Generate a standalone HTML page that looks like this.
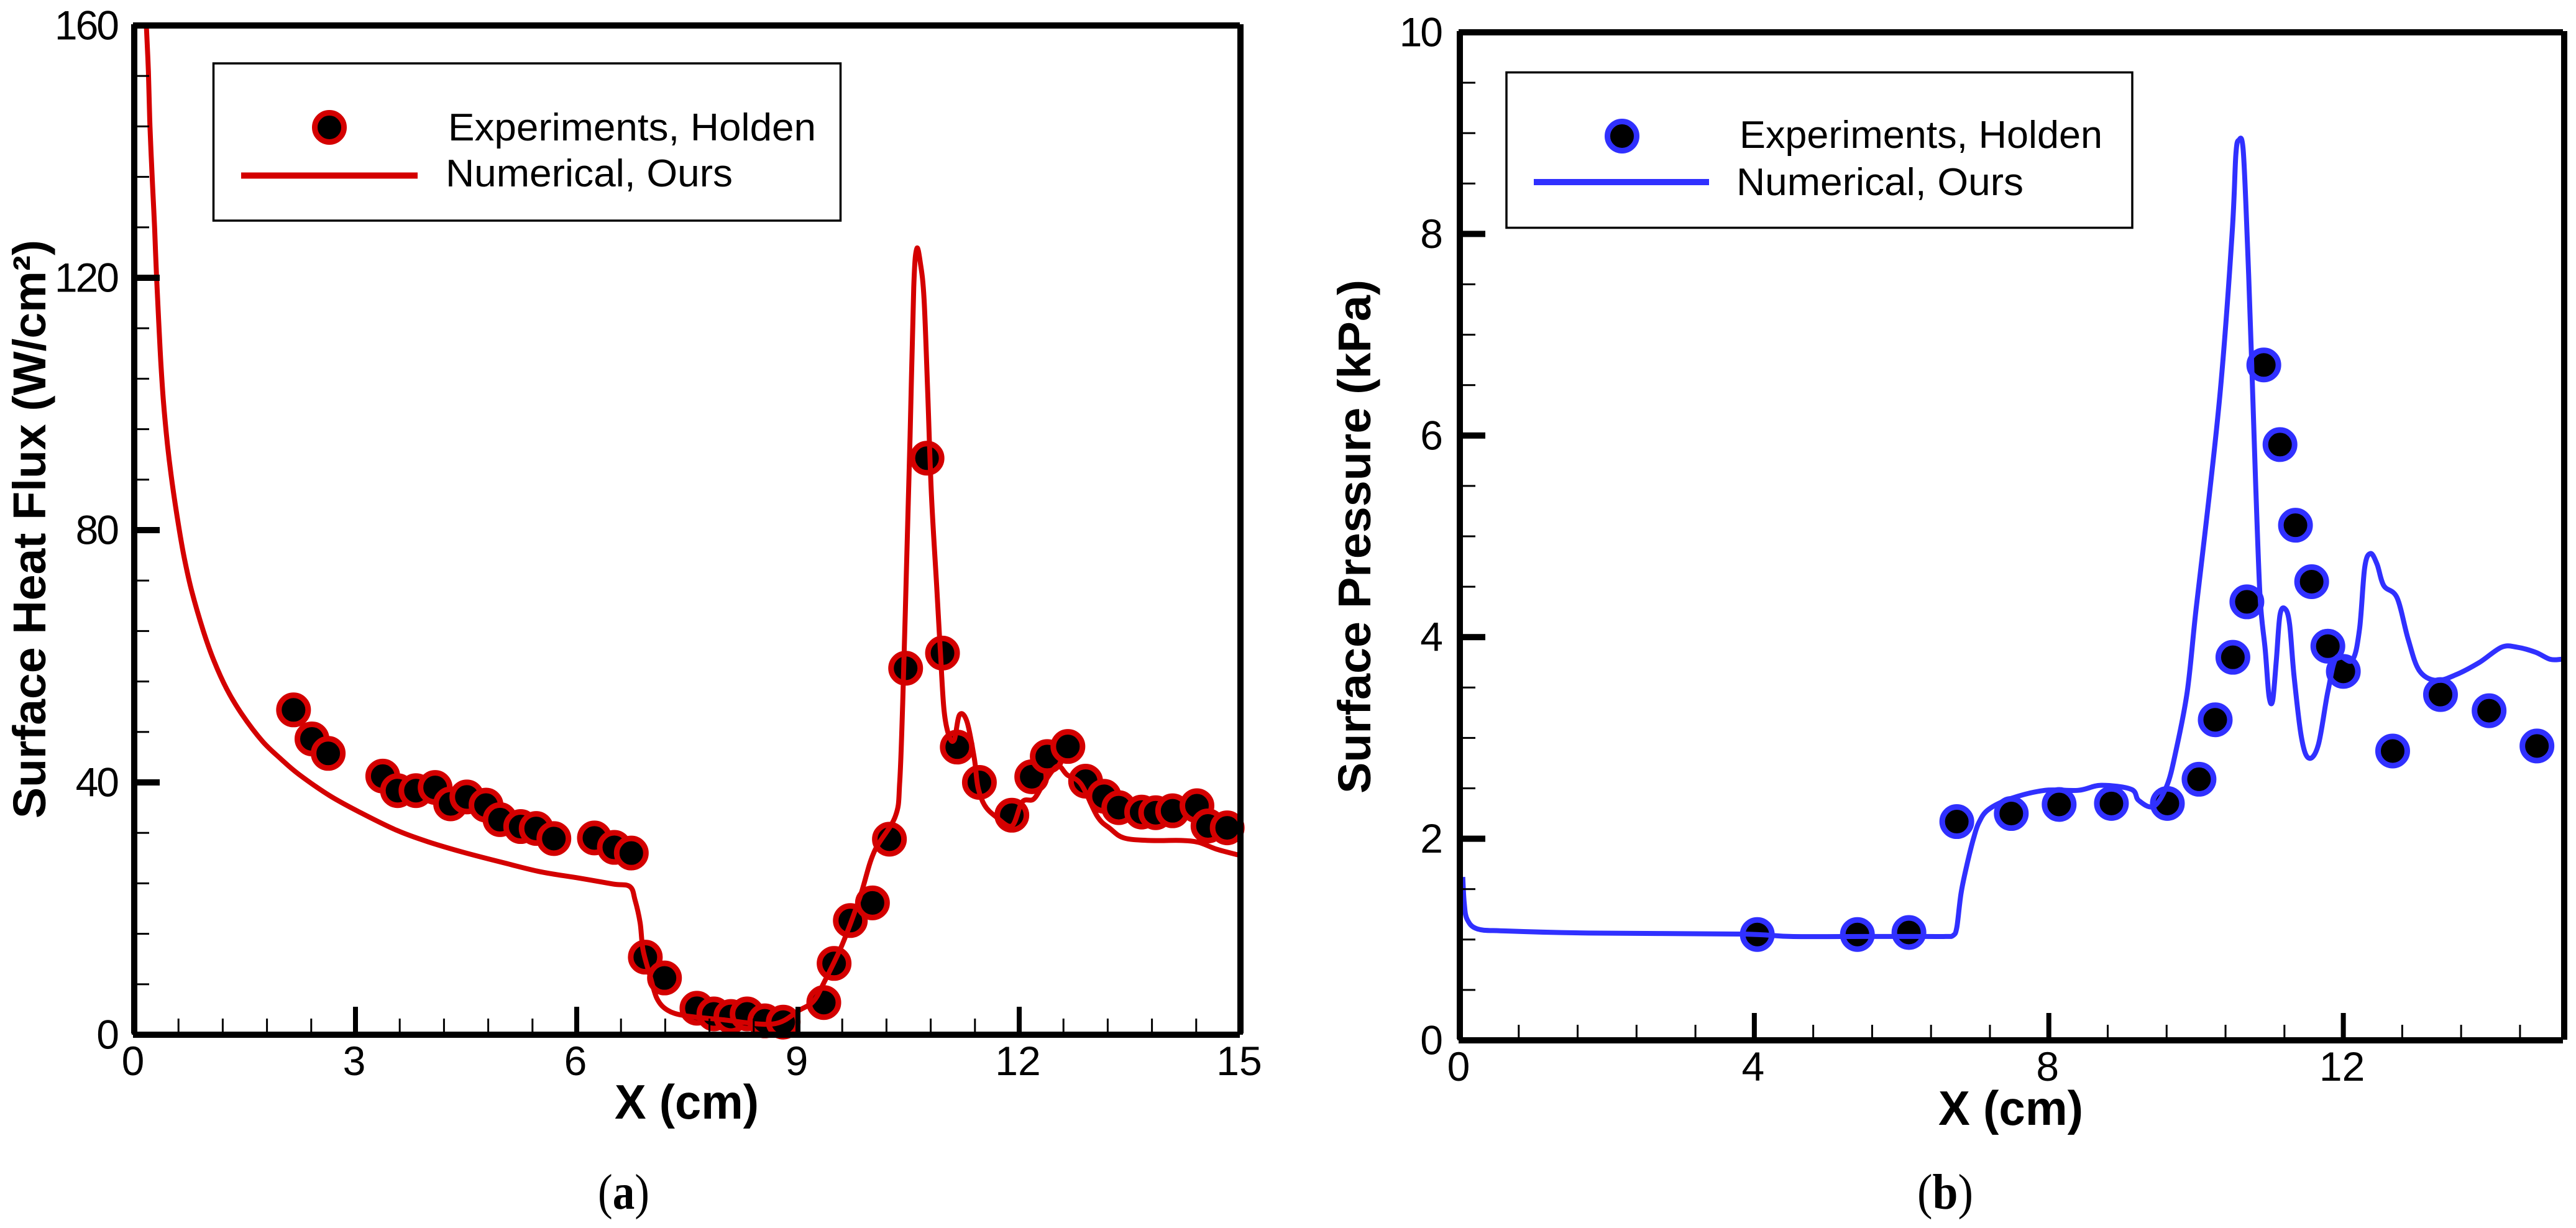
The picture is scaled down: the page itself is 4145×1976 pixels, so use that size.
<!DOCTYPE html>
<html lang="en">
<head>
<meta charset="utf-8">
<title>Surface heat flux and surface pressure comparison</title>
<style>
html,body{margin:0;padding:0;background:#fff;}
svg{display:block;}
text{font-family:"Liberation Sans",Arial,sans-serif;fill:#000;}
.tick{font-size:66px;}
.ytick{letter-spacing:-3px;}
.legend-text{font-size:62px;}
.title{font-size:74px;font-weight:bold;}
.cap{font-family:"Liberation Serif","Times New Roman",serif;font-size:80px;}
</style>
</head>
<body>
<svg id="chart" xmlns="http://www.w3.org/2000/svg" width="4145" height="1976" viewBox="0 0 4145 1976">
  <rect x="0" y="0" width="4145" height="1976" fill="#fff"/>

  <g id="panel-a">
    <g id="a-marks"></g>
    <g id="a-ticks"></g>
    <g fill="#000">
      <rect x="211" y="39" width="10" height="1624"/>
      <rect x="214" y="36" width="1781" height="10"/>
      <rect x="214" y="1660" width="1781" height="10"/>
      <rect x="1991" y="39" width="10" height="1624"/>
    </g>
    <g>
      <rect x="343.5" y="102" width="1009" height="253" fill="#fff" stroke="#000" stroke-width="3.5"/>
      <circle cx="530" cy="205" r="23.5" fill="#000" stroke="#d40000" stroke-width="9"/>
      <line x1="388" y1="282.5" x2="672" y2="282.5" stroke="#d40000" stroke-width="10"/>
      <text class="legend-text" x="721" y="226" textLength="592" lengthAdjust="spacingAndGlyphs">Experiments, Holden</text>
      <text class="legend-text" x="717" y="300" textLength="462" lengthAdjust="spacingAndGlyphs">Numerical, Ours</text>
    </g>
    <text class="title" transform="translate(73,851.5) rotate(-90)" text-anchor="middle" textLength="931" lengthAdjust="spacingAndGlyphs">Surface Heat Flux (W/cm²)</text>
    <text class="title" style="font-size:78px" x="989" y="1800" textLength="232" lengthAdjust="spacingAndGlyphs">X (cm)</text>
    <text class="cap" x="962" y="1945" textLength="83" lengthAdjust="spacingAndGlyphs">(<tspan font-weight="bold">a</tspan>)</text>
  </g>

  <g id="panel-b">
    <g id="b-marks"></g>
    <g id="b-ticks"></g>
    <g fill="#000">
      <rect x="2344" y="50" width="10" height="1622"/>
      <rect x="2347" y="47" width="1777" height="10"/>
      <rect x="2347" y="1669" width="1777" height="10"/>
      <rect x="4121" y="50" width="10" height="1623"/>
    </g>
    <g>
      <rect x="2424" y="116.5" width="1007" height="250" fill="#fff" stroke="#000" stroke-width="3.5"/>
      <circle cx="2610" cy="219" r="23.5" fill="#000" stroke="#3030ff" stroke-width="9"/>
      <line x1="2468" y1="293" x2="2750" y2="293" stroke="#3030ff" stroke-width="10"/>
      <text class="legend-text" x="2799" y="238" textLength="584" lengthAdjust="spacingAndGlyphs">Experiments, Holden</text>
      <text class="legend-text" x="2794" y="314" textLength="462" lengthAdjust="spacingAndGlyphs">Numerical, Ours</text>
    </g>
    <text class="title" transform="translate(2205,863.5) rotate(-90)" text-anchor="middle" textLength="827" lengthAdjust="spacingAndGlyphs">Surface Pressure (kPa)</text>
    <text class="title" style="font-size:78px" x="3119" y="1810" textLength="233" lengthAdjust="spacingAndGlyphs">X (cm)</text>
    <text class="cap" x="3085" y="1945" textLength="90" lengthAdjust="spacingAndGlyphs">(<tspan font-weight="bold">b</tspan>)</text>
  </g>
</svg>

<script>
// ---- Panel (a): surface heat flux ----
const heatXTicks = [0, 3, 6, 9, 12, 15];
const heatYTicks = [0, 40, 80, 120, 160];
const heatXMinorStep = 0.6;
const heatYMinorStep = 8;
const heatExpX = [2.16,2.41,2.63,3.37,3.57,3.82,4.08,4.29,4.51,4.77,4.96,5.24,5.45,5.69,6.24,6.51,6.74,6.93,7.19,7.63,7.86,8.09,8.31,8.55,8.80,9.35,9.49,9.71,10.01,10.24,10.46,10.75,10.96,11.16,11.46,11.90,12.17,12.38,12.66,12.90,13.15,13.35,13.66,13.85,14.08,14.41,14.56,14.82];
const heatExpY = [51.5,46.9,44.6,41.0,38.7,38.7,39.2,36.6,37.7,36.4,34.1,33.0,32.7,31.1,31.2,29.7,28.8,12.3,9.0,4.2,3.3,2.9,3.3,2.2,2.0,5.1,11.3,18.1,20.9,31.0,58.1,91.4,60.5,45.6,40.0,34.8,40.9,44.1,45.7,40.2,37.8,36.0,35.3,35.2,35.5,36.3,33.1,32.8];
const heatNumX = [0.164,0.192,0.213,0.248,0.276,0.303,0.332,0.36,0.395,0.451,0.514,0.604,0.68,0.78,0.94,1.08,1.255,1.46,1.74,1.99,2.23,2.65,3.07,3.56,3.98,4.47,5.03,5.52,6.0,6.49,6.72,6.79,6.86,6.9,7.0,7.09,7.23,7.47,7.96,8.66,9.02,9.21,9.35,9.6,9.84,10.03,10.32,10.38,10.42,10.47,10.52,10.57,10.61,10.66,10.71,10.76,10.81,10.88,10.93,10.98,11.05,11.12,11.19,11.29,11.39,11.44,11.53,11.68,11.9,12.04,12.2,12.35,12.52,12.65,12.84,13.06,13.23,13.42,13.76,14.19,14.43,14.68,15];
const heatNumY = [160,152.7,144,134.8,127.9,120,113,106.7,100.5,93.5,87.5,80.5,75.5,70.3,63.9,59.3,54.8,50.8,46.5,43.7,41.3,37.9,35.2,32.4,30.6,28.9,27.2,25.8,24.9,23.9,23.5,21.4,17.7,13.4,9.1,5.7,3.9,3.0,2.4,1.7,3.9,5.3,8.2,14.3,21.8,28.9,34.6,40.2,52.5,73.2,94.9,118.5,124.6,122.3,116.6,101.5,85.5,71.3,61,51.5,47.3,46.8,50.7,49.7,43.9,39.3,36.4,34.6,33.1,36.9,37.4,40.2,42.6,41.2,39.7,34.6,32.7,31.2,30.8,30.8,30.5,29.4,28.4];

// ---- Panel (b): surface pressure ----
const pressXTicks = [0, 4, 8, 12];
const pressYTicks = [0, 2, 4, 6, 8, 10];
const pressXMinorStep = 0.8;
const pressYMinorStep = 0.5;
const pressExpX = [4.04,5.40,6.10,6.75,7.49,8.14,8.85,9.61,10.04,10.26,10.50,10.69,10.92,11.14,11.35,11.57,11.79,12.0,12.67,13.32,13.98,14.63];
const pressExpY = [1.05,1.05,1.07,2.17,2.25,2.34,2.35,2.35,2.59,3.18,3.80,4.35,6.70,5.91,5.11,4.55,3.91,3.66,2.87,3.43,3.27,2.92];
const pressNumX = [0.04,0.06,0.10,0.24,0.62,1.75,3.82,4.5,5.5,6.3,6.6,6.7,6.75,6.81,6.90,6.98,7.05,7.18,7.49,7.95,8.40,8.71,9.12,9.22,9.42,9.6,9.72,9.88,10.0,10.18,10.34,10.49,10.54,10.58,10.64,10.70,10.75,10.81,10.87,10.94,10.99,11.04,11.09,11.14,11.21,11.27,11.33,11.43,11.53,11.66,11.79,11.91,12.12,12.22,12.29,12.37,12.46,12.55,12.73,12.88,13.03,13.26,13.54,13.85,14.15,14.36,14.61,14.81,14.96,15];
const pressNumY = [1.62,1.36,1.20,1.105,1.085,1.064,1.054,1.03,1.03,1.03,1.03,1.04,1.12,1.47,1.78,2.01,2.16,2.29,2.40,2.48,2.48,2.53,2.49,2.38,2.32,2.52,2.85,3.46,4.28,5.41,6.53,8.01,8.78,8.93,8.83,7.86,6.84,5.51,4.39,3.87,3.42,3.37,3.77,4.22,4.28,4.13,3.62,3.01,2.80,2.93,3.46,3.80,3.77,4.08,4.69,4.83,4.72,4.51,4.39,3.98,3.67,3.57,3.63,3.75,3.90,3.90,3.85,3.78,3.78,3.78];

const NS = 'http://www.w3.org/2000/svg';
function make(tag, attrs, parent) {
  const el = document.createElementNS(NS, tag);
  for (const k in attrs) el.setAttribute(k, attrs[k]);
  parent.appendChild(el);
  return el;
}

// Catmull-Rom smoothing through the scaled data vertices
function smoothPath(p) {
  let d = 'M' + p[0][0].toFixed(1) + ' ' + p[0][1].toFixed(1);
  for (let i = 0; i < p.length - 1; i++) {
    const a = p[Math.max(i - 1, 0)], b = p[i], c = p[i + 1], e = p[Math.min(i + 2, p.length - 1)];
    const c1x = b[0] + (c[0] - a[0]) / 6, c1y = b[1] + (c[1] - a[1]) / 6;
    const c2x = c[0] - (e[0] - b[0]) / 6, c2y = c[1] - (e[1] - b[1]) / 6;
    d += 'C' + c1x.toFixed(1) + ' ' + c1y.toFixed(1) + ' ' + c2x.toFixed(1) + ' ' + c2y.toFixed(1) + ' ' + c[0].toFixed(1) + ' ' + c[1].toFixed(1);
  }
  return d;
}

function drawPanel(cfg) {
  const xs = v => cfg.left + (v - cfg.xMin) / (cfg.xMax - cfg.xMin) * (cfg.right - cfg.left);
  const ys = v => cfg.bottom - (v - cfg.yMin) / (cfg.yMax - cfg.yMin) * (cfg.bottom - cfg.top);
  const marks = document.getElementById(cfg.marksId);
  const ticks = document.getElementById(cfg.ticksId);

  // experiment markers
  cfg.expX.forEach((xv, i) => {
    const c = make('circle', {cx: xs(xv), cy: ys(cfg.expY[i]), r: 23.5, fill: '#000', stroke: cfg.color, 'stroke-width': 9}, marks);
    
    
  });

  // numerical curve
  const verts = cfg.numX.map((xv, i) => [xs(xv), ys(cfg.numY[i])]);
  const line = make('path', {d: smoothPath(verts), fill: 'none', stroke: cfg.color, 'stroke-width': 8, 'stroke-linejoin': 'round'}, marks);
  
  

  // major x ticks and labels
  cfg.xTicks.forEach(v => {
    const t = make('rect', {x: xs(v) - 4, y: cfg.bottom - cfg.xMajorLen, width: 8, height: cfg.xMajorLen, fill: '#000'}, ticks);
    
    
    const lab = make('text', {x: xs(v) - 2, y: cfg.xLabelY, 'text-anchor': 'middle', class: 'tick'}, ticks);
    lab.textContent = String(v);
    
    
  });

  // major y ticks and labels
  cfg.yTicks.forEach(v => {
    const t = make('rect', {x: cfg.left, y: ys(v) - 5, width: cfg.yMajorLen, height: 10, fill: '#000'}, ticks);
    
    
    const lab = make('text', {x: cfg.yLabelX, y: ys(v) + 22.5, 'text-anchor': 'end', class: 'tick ytick'}, ticks);
    lab.textContent = String(v);
    
    
  });

  // minor ticks
  const nx = Math.round((cfg.xMax - cfg.xMin) / cfg.xMinor);
  for (let i = 1; i < nx; i++) {
    const v = cfg.xMin + i * cfg.xMinor;
    if (cfg.xTicks.some(m => Math.abs(m - v) < 1e-6)) continue;
    const t = make('rect', {x: xs(v) - 1.5, y: cfg.bottom - cfg.xMinorLen, width: 3, height: cfg.xMinorLen, fill: '#000'}, ticks);
    
    
  }
  const ny = Math.round((cfg.yMax - cfg.yMin) / cfg.yMinor);
  for (let i = 1; i < ny; i++) {
    const v = cfg.yMin + i * cfg.yMinor;
    if (cfg.yTicks.some(m => Math.abs(m - v) < 1e-6)) continue;
    const t = make('rect', {x: cfg.left, y: ys(v) - 1.5, width: cfg.yMinorLen, height: 3, fill: '#000'}, ticks);
    
    
  }
}

drawPanel({
  marksId: 'a-marks', ticksId: 'a-ticks', color: '#d40000',
  left: 216, right: 1996, top: 41, bottom: 1665,
  xMin: 0, xMax: 15, yMin: 0, yMax: 160,
  xTicks: heatXTicks, yTicks: heatYTicks, xMinor: heatXMinorStep, yMinor: heatYMinorStep,
  expX: heatExpX, expY: heatExpY, numX: heatNumX, numY: heatNumY,
  xMajorLen: 45, xMinorLen: 26, yMajorLen: 41, yMinorLen: 24,
  xLabelY: 1730, yLabelX: 189
});

drawPanel({
  marksId: 'b-marks', ticksId: 'b-ticks', color: '#3030ff',
  left: 2349, right: 4126, top: 52, bottom: 1674,
  xMin: 0, xMax: 15, yMin: 0, yMax: 10,
  xTicks: pressXTicks, yTicks: pressYTicks, xMinor: pressXMinorStep, yMinor: pressYMinorStep,
  expX: pressExpX, expY: pressExpY, numX: pressNumX, numY: pressNumY,
  xMajorLen: 44, xMinorLen: 25, yMajorLen: 41, yMinorLen: 25,
  xLabelY: 1739, yLabelX: 2319
});
</script>
</body>
</html>
